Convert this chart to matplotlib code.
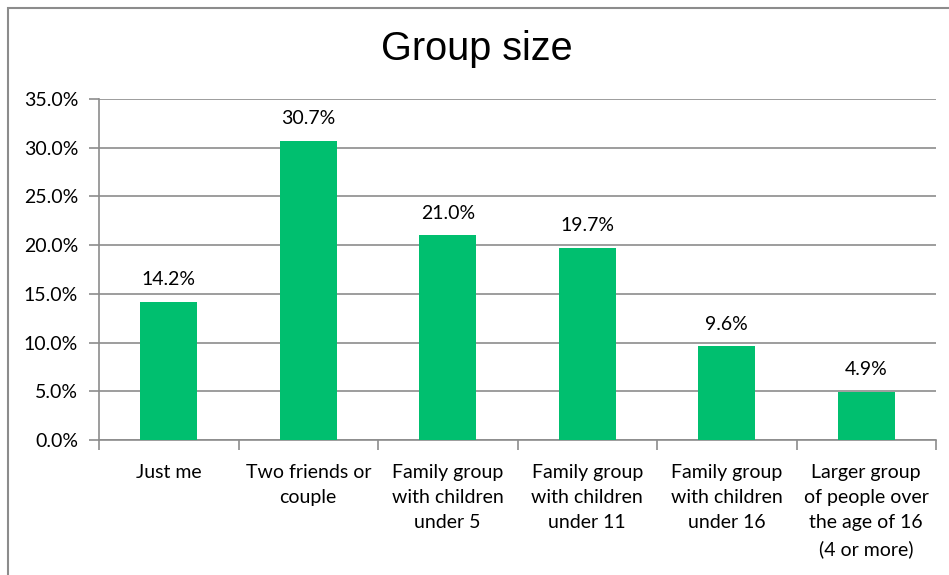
import matplotlib
matplotlib.use('Agg')
import matplotlib.pyplot as plt
from matplotlib.patches import Rectangle
from matplotlib.ticker import FuncFormatter, FixedLocator


categories = ['Just me', 'Two friends or\ncouple', 'Family group\nwith children\nunder 5',
              'Family group\nwith children\nunder 11', 'Family group\nwith children\nunder 16',
              'Larger group\nof people over\nthe age of 16\n(4 or more)']
shares = [14.2, 30.7, 21.0, 19.7, 9.6, 4.9]
y_ticks = [0, 5, 10, 15, 20, 25, 30, 35]

green = '#00BF6F'
gray = '#8C8C8C'

plt.rcParams['font.family'] = ['Lato', 'DejaVu Sans']

fig = plt.figure(figsize=(9.49, 5.75), dpi=100)
ax = fig.add_axes([99 / 949, 1 - 440 / 575, (936 - 99) / 949, (440 - 99) / 575])

x = list(range(len(categories)))
bars = ax.bar(x, shares, width=0.41, color=green, zorder=3)

for xi, v in zip(x, shares):
    ax.annotate('%.1f%%' % v, (xi, v), xytext=(0, 10), textcoords='offset points',
                ha='center', va='bottom', fontsize=14, color='black')

ax.set_xlim(-0.5, len(categories) - 0.5)
ax.set_ylim(0, 35)
ax.set_yticks(y_ticks)
ax.yaxis.set_major_formatter(FuncFormatter(lambda v, p: '%.1f%%' % v))
ax.grid(axis='y', color=gray, linewidth=1.2, zorder=0)

ax.set_xticks(x)
ax.set_xticklabels(categories, fontsize=14, linespacing=1.6)
ax.xaxis.set_minor_locator(FixedLocator([i - 0.5 for i in range(len(categories) + 1)]))
ax.tick_params(axis='x', which='major', length=0, pad=17)
ax.tick_params(axis='x', which='minor', length=7, width=1.2, color=gray, direction='out')
ax.tick_params(axis='y', length=7, width=1.2, color=gray, pad=8, labelsize=14)

for s in ['top', 'right']:
    ax.spines[s].set_visible(False)
for s in ['left', 'bottom']:
    ax.spines[s].set_color(gray)
    ax.spines[s].set_linewidth(1.2)

fig.text(477 / 949, 1 - 49 / 575, 'Group size', ha='center', va='center',
         fontsize=28.5, family='Liberation Sans')

# outer chart frame
fig.patches.append(Rectangle((8 / 949, -0.1), 1.2, 1.1 - 8 / 575, transform=fig.transFigure,
                             fill=False, edgecolor=gray, linewidth=1.5))

fig.savefig('out.png', dpi=100)
